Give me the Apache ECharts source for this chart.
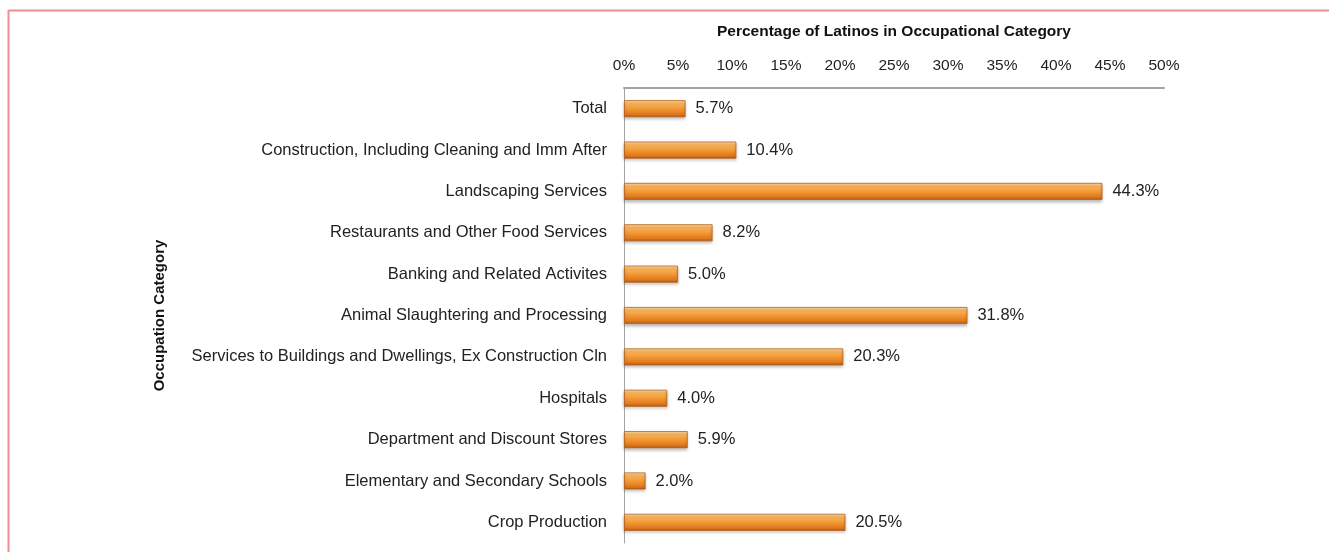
<!DOCTYPE html>
<html>
<head>
<meta charset="utf-8">
<script src="https://cdn.jsdelivr.net/npm/echarts@6/dist/echarts.min.js"></script>
<style>
  html, body { margin: 0; padding: 0; background: #fff; }
  #chart { width: 1329px; height: 552px; }
</style>
</head>
<body>
<div id="chart"></div>
<script>
// Occupational categories, listed top to bottom
const categories = [
  'Total',
  'Construction, Including Cleaning and Imm After',
  'Landscaping Services',
  'Restaurants and Other Food Services',
  'Banking and Related Activites',
  'Animal Slaughtering and Processing',
  'Services to Buildings and Dwellings, Ex Construction Cln',
  'Hospitals',
  'Department and Discount Stores',
  'Elementary and Secondary Schools',
  'Crop Production'
];
// Share of Latino workers in each category (%)
const latinoShare = [5.7, 10.4, 44.3, 8.2, 5.0, 31.8, 20.3, 4.0, 5.9, 2.0, 20.5];

const chart = echarts.init(document.getElementById('chart'), null, { renderer: 'canvas' });

// bevelled orange fill: bright top edge, darker lower edge
const barFill = new echarts.graphic.LinearGradient(0, 0, 0, 1, [
  { offset: 0, color: '#fde0ab' },
  { offset: 0.2, color: '#f9b45a' },
  { offset: 0.55, color: '#f19430' },
  { offset: 0.85, color: '#dc761c' },
  { offset: 1, color: '#a95514' }
]);

chart.setOption({
  animation: false,
  backgroundColor: '#ffffff',
  textStyle: { fontFamily: 'Liberation Sans, Arial, sans-serif' },
  graphic: [
    // outer frame: top and left edges
    { type: 'line', shape: { x1: 8.5, y1: 10.5, x2: 1329, y2: 10.5 }, style: { stroke: '#ec8f93', lineWidth: 2 } },
    { type: 'line', shape: { x1: 8.5, y1: 10, x2: 8.5, y2: 552 }, style: { stroke: '#ec8f93', lineWidth: 2 } }
  ],
  grid: { left: 624, right: 165, top: 88, bottom: 9, containLabel: false },
  xAxis: {
    type: 'value',
    position: 'top',
    min: 0,
    max: 50,
    interval: 5,
    name: 'Percentage of Latinos in Occupational Category',
    nameLocation: 'middle',
    nameGap: 48,
    nameTextStyle: { fontSize: 15.5, fontWeight: 'bold', color: '#111' },
    axisLine: { show: true, lineStyle: { color: '#a3a3a3', width: 2 } },
    axisTick: { show: false },
    splitLine: { show: false },
    axisLabel: { formatter: '{value}%', fontSize: 15.5, color: '#222', margin: 14 }
  },
  yAxis: {
    type: 'category',
    inverse: true,
    data: categories,
    name: 'Occupation Category',
    nameLocation: 'middle',
    nameRotate: 90,
    nameGap: 457,
    nameTextStyle: { fontSize: 15, fontWeight: 'bold', color: '#111' },
    axisLine: { show: true, lineStyle: { color: '#a3a3a3', width: 1 } },
    axisTick: { show: false },
    axisLabel: { fontSize: 16.5, color: '#222', margin: 17 }
  },
  series: [{
    type: 'bar',
    data: latinoShare,
    barWidth: 17,
    itemStyle: {
      color: barFill,
      borderColor: '#b8601a',
      borderWidth: 0.8,
      shadowColor: 'rgba(0,0,0,0.25)',
      shadowBlur: 3,
      shadowOffsetY: 2
    },
    label: {
      show: true,
      position: 'right',
      distance: 10,
      formatter: p => p.value.toFixed(1) + '%',
      fontSize: 16.5,
      color: '#222'
    }
  }]
});
</script>
</body>
</html>
